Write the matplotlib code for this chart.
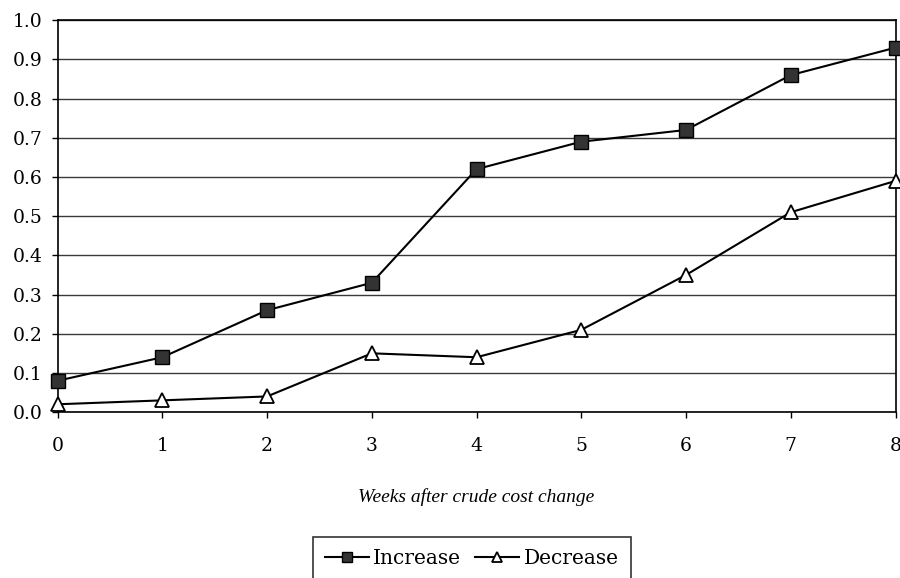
import matplotlib.pyplot as plt
import numpy as np

weeks = [0, 1, 2, 3, 4, 5, 6, 7, 8]
increase = [0.08, 0.14, 0.26, 0.33, 0.62, 0.69, 0.72, 0.86, 0.93]
decrease = [0.02, 0.03, 0.04, 0.15, 0.14, 0.21, 0.35, 0.51, 0.59]
yticks = np.arange(0, 1.01, 0.1)

plt.rcParams['font.family'] = ['DejaVu Serif']

fig = plt.figure(figsize=(9, 5.78), dpi=100)
ax = fig.add_axes([0.064, 0.287, 0.931, 0.678])

ax.plot(weeks, increase, color='black', linewidth=1.5, marker='s', markersize=9.5,
        markerfacecolor='#333333', markeredgecolor='black', label='Increase',
        clip_on=False, zorder=3)
ax.plot(weeks, decrease, color='black', linewidth=1.5, marker='^', markersize=10.5,
        markerfacecolor='white', markeredgecolor='black', markeredgewidth=1.3,
        label='Decrease', clip_on=False, zorder=3)

ax.set_xlim(0, 8)
ax.set_ylim(0, 1.0)
ax.set_xticks(weeks)
ax.set_yticks(yticks)
ax.set_yticklabels([f'{v:.1f}' for v in yticks])
ax.yaxis.grid(True, color='#3a3a3a', linewidth=1.0)
ax.set_axisbelow(True)
ax.tick_params(axis='both', labelsize=13.5, direction='out', length=4, width=1,
               color='black')
ax.tick_params(axis='x', pad=14)
ax.tick_params(axis='y', pad=7)
for s in ax.spines.values():
    s.set_color('black')
    s.set_linewidth(1.2)

ax.set_xlabel('Weeks after crude cost change', fontsize=14, style='italic',
              family='Liberation Serif', labelpad=24)

leg = fig.legend(loc='upper center', bbox_to_anchor=(0.524, 0.088), ncol=2,
                 fontsize=14.5, frameon=True, fancybox=False, edgecolor='black',
                 handlelength=2.2, handletextpad=0.2, columnspacing=0.7,
                 borderpad=0.6, markerscale=0.7)
leg.get_frame().set_linewidth(1.2)

fig.savefig('out.png', dpi=100)
